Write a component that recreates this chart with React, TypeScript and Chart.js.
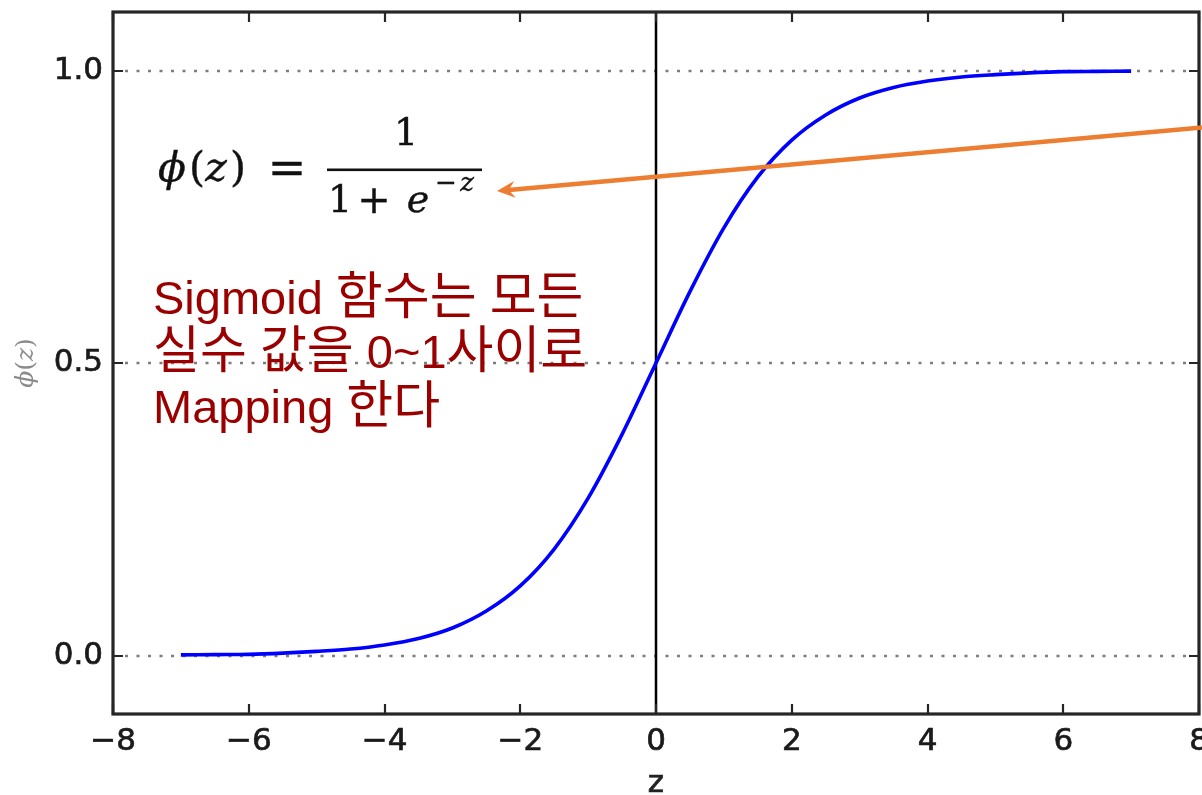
import React, { useEffect, useRef } from "react";
import { Chart, registerables } from "chart.js";

Chart.register(...registerables);

// Sampled points of the logistic curve phi(z)
const zValues = [
  -7, -6.5, -6, -5.5, -5, -4.5, -4, -3.5, -3, -2.5, -2, -1.5, -1, -0.5, 0,
  0.5, 1, 1.5, 2, 2.5, 3, 3.5, 4, 4.5, 5, 5.5, 6, 6.5, 7,
];
const phiValues = [
  0.001, 0.0015, 0.002, 0.004, 0.007, 0.011, 0.018, 0.029, 0.047, 0.076, 0.119,
  0.182, 0.269, 0.378, 0.5, 0.622, 0.731, 0.818, 0.881, 0.924, 0.953, 0.971,
  0.982, 0.989, 0.993, 0.996, 0.998, 0.9985, 0.999,
];

const xTickValues = [-8, -6, -4, -2, 0, 2, 4, 6, 8];
const yTickValues = [0, 0.5, 1.0];

const noteLines = ["Sigmoid 함수는 모든", "실수 값을 0~1사이로", "Mapping 한다"];

const TICK_FONT = "'DejaVu Sans', sans-serif";
const MATH_FONT = "'DejaVu Serif', serif";
const LATIN_NOTE_FONT = "47px 'Liberation Sans', sans-serif";
const HANGUL_NOTE_FONT = "51px 'Noto Sans CJK KR', sans-serif";

// draw a line of mixed Latin / Hangul text, each run in its own font
function drawMixed(ctx: CanvasRenderingContext2D, text: string, x: number, y: number) {
  const runs = text.match(/[\uAC00-\uD7A3]+|[^\uAC00-\uD7A3]+/g) || [];
  let cx = x;
  for (const run of runs) {
    ctx.font = /[\uAC00-\uD7A3]/.test(run) ? HANGUL_NOTE_FONT : LATIN_NOTE_FONT;
    ctx.fillText(run, cx, y);
    cx += ctx.measureText(run).width;
  }
}

const decorPlugin = {
  id: "decor",
  beforeDatasetsDraw(chart: any) {
    const { ctx, chartArea: a, scales } = chart;
    const xs = scales.x;
    const ys = scales.y;
    ctx.save();
    // dotted horizontal grid at each y tick
    ctx.strokeStyle = "#7d7d7d";
    ctx.lineWidth = 2.5;
    ctx.setLineDash([3, 8.5]);
    for (const v of yTickValues) {
      const py = Math.round(ys.getPixelForValue(v));
      ctx.beginPath();
      ctx.moveTo(a.left + 12, py);
      ctx.lineTo(a.right - 10, py);
      ctx.stroke();
    }
    ctx.setLineDash([]);
    // vertical reference line at z = 0
    const px0 = Math.round(xs.getPixelForValue(0));
    ctx.strokeStyle = "#000";
    ctx.lineWidth = 2.5;
    ctx.beginPath();
    ctx.moveTo(px0, a.top);
    ctx.lineTo(px0, a.bottom);
    ctx.stroke();
    ctx.restore();
  },
  afterDatasetsDraw(chart: any) {
    const { ctx, chartArea: a, scales } = chart;
    const xs = scales.x;
    const ys = scales.y;
    ctx.save();

    // frame
    ctx.strokeStyle = "#262626";
    ctx.lineWidth = 3.2;
    ctx.strokeRect(a.left, a.top, a.right - a.left, a.bottom - a.top);

    // inward tick marks on all four sides
    ctx.lineWidth = 2.2;
    const tl = 10;
    for (const v of xTickValues) {
      const px = Math.round(xs.getPixelForValue(v));
      ctx.beginPath();
      ctx.moveTo(px, a.bottom);
      ctx.lineTo(px, a.bottom - tl);
      ctx.moveTo(px, a.top);
      ctx.lineTo(px, a.top + tl);
      ctx.stroke();
    }
    for (const v of yTickValues) {
      const py = Math.round(ys.getPixelForValue(v));
      ctx.beginPath();
      ctx.moveTo(a.left, py);
      ctx.lineTo(a.left + tl, py);
      ctx.moveTo(a.right, py);
      ctx.lineTo(a.right - tl, py);
      ctx.stroke();
    }

    // axis titles
    ctx.fillStyle = "#222";
    ctx.strokeStyle = "#222";
    ctx.lineWidth = 0.7;
    ctx.font = `31px ${TICK_FONT}`;
    ctx.textAlign = "center";
    ctx.textBaseline = "alphabetic";
    const zx = xs.getPixelForValue(0);
    ctx.fillText("z", zx, a.bottom + 78);
    ctx.strokeText("z", zx, a.bottom + 78);

    ctx.save();
    ctx.translate(a.left - 87, ys.getPixelForValue(0.5));
    ctx.rotate(-Math.PI / 2);
    ctx.fillStyle = "#8a8a8a";
    ctx.textBaseline = "middle";
    const ySize = 25;
    const yParts: [string, boolean][] = [["ϕ", true], ["(", false], ["z", true], [")", false]];
    const widths = yParts.map(([s, it]) => {
      ctx.font = `${it ? "italic " : ""}${ySize}px ${MATH_FONT}`;
      return ctx.measureText(s).width;
    });
    let cx = -widths.reduce((p, w) => p + w, 0) / 2;
    ctx.textAlign = "left";
    yParts.forEach(([s, it], i) => {
      ctx.font = `${it ? "italic " : ""}${ySize}px ${MATH_FONT}`;
      ctx.fillText(s, cx, 0);
      cx += widths[i];
    });
    ctx.restore();

    // formula  phi(z) = 1 / (1 + e^-z)
    const L = a.left;
    const T = a.top;
    ctx.fillStyle = "#111";
    ctx.strokeStyle = "#111";
    ctx.lineWidth = 0.4;
    ctx.textAlign = "center";
    ctx.textBaseline = "alphabetic";
    const glyph = (s: string, cxp: number, by: number, size: number, italic: boolean) => {
      ctx.font = `${italic ? "italic " : ""}${size}px ${MATH_FONT}`;
      ctx.fillText(s, L + cxp, T + by);
      ctx.strokeText(s, L + cxp, T + by);
    };
    glyph("ϕ", 59, 169, 41, true);
    glyph("(", 84, 169, 41, false);
    glyph("z", 103, 169, 41, true);
    glyph(")", 125, 169, 41, false);
    glyph("=", 174, 171, 46, false);
    ctx.fillRect(L + 214, T + 156.5, 155, 2.6);
    glyph("1", 293, 133, 38, false);
    glyph("1", 227, 200, 38, false);
    glyph("+", 261, 201, 40, false);
    glyph("e", 305, 200, 38, true);
    glyph("−", 333, 179, 26, false);
    glyph("z", 354, 179, 26, true);

    // note text
    ctx.fillStyle = "#9a0000";
    ctx.textAlign = "left";
    const baselines = [302, 356, 411];
    noteLines.forEach((line, i) => drawMixed(ctx, line, L + 40, T + baselines[i]));

    // arrow pointing at the formula
    const sx = xs.getPixelForValue(8.044);
    const sy = ys.getPixelForValue(0.9027);
    const tx = xs.getPixelForValue(-2.343);
    const ty = ys.getPixelForValue(0.794);
    const ang = Math.atan2(ty - sy, tx - sx);
    const ux = Math.cos(ang);
    const uy = Math.sin(ang);
    const nx = -uy;
    const ny = ux;
    ctx.strokeStyle = "#ED7D31";
    ctx.fillStyle = "#ED7D31";
    ctx.lineWidth = 4.5;
    ctx.lineCap = "butt";
    ctx.beginPath();
    ctx.moveTo(sx, sy);
    ctx.lineTo(tx - ux * 12, ty - uy * 12);
    ctx.stroke();
    const hl = 18;
    const hw = 8.5;
    const notch = 12;
    ctx.beginPath();
    ctx.moveTo(tx, ty);
    ctx.lineTo(tx - ux * hl + nx * hw, ty - uy * hl + ny * hw);
    ctx.lineTo(tx - ux * notch, ty - uy * notch);
    ctx.lineTo(tx - ux * hl - nx * hw, ty - uy * hl - ny * hw);
    ctx.closePath();
    ctx.fill();

    ctx.restore();
  },
};

export default function App() {
  const canvasRef = useRef<HTMLCanvasElement | null>(null);

  useEffect(() => {
    const canvas = canvasRef.current;
    if (!canvas) return;
    const points = zValues.map((z, i) => ({ x: z, y: phiValues[i] }));
    const tickFont = { family: TICK_FONT, size: 31 };
    const chart = new Chart(canvas, {
      type: "line",
      data: {
        datasets: [
          {
            data: points,
            borderColor: "#0000ff",
            borderWidth: 3.6,
            pointRadius: 0,
            fill: false,
            cubicInterpolationMode: "monotone",
          },
        ],
      },
      options: {
        animation: false,
        responsive: false,
        devicePixelRatio: 1,
        layout: { padding: { top: 12, right: 3, left: 0, bottom: 0 } },
        plugins: {
          legend: { display: false },
          tooltip: { enabled: false },
        },
        scales: {
          x: {
            type: "linear",
            min: -8,
            max: 8,
            grid: { display: false },
            border: { display: false },
            afterBuildTicks: (scale: any) => {
              scale.ticks = xTickValues.map((v) => ({ value: v }));
            },
            afterFit: (scale: any) => {
              scale.height = 81;
              scale.paddingLeft = 0;
              scale.paddingRight = 0;
            },
            ticks: {
              padding: 1,
              color: "#1a1a1a",
              textStrokeColor: "#1a1a1a",
              textStrokeWidth: 0.7,
              font: tickFont,
              maxRotation: 0,
              autoSkip: false,
              callback: (v: any) => (v < 0 ? "\u2212" + Math.abs(v) : String(v)),
            },
          },
          y: {
            type: "linear",
            min: -0.1,
            max: 1.1,
            grid: { display: false },
            border: { display: false },
            afterBuildTicks: (scale: any) => {
              scale.ticks = yTickValues.map((v) => ({ value: v }));
            },
            afterFit: (scale: any) => {
              scale.width = 113;
              scale.paddingTop = 0;
              scale.paddingBottom = 0;
            },
            ticks: {
              padding: 2,
              color: "#1a1a1a",
              textStrokeColor: "#1a1a1a",
              textStrokeWidth: 0.7,
              font: tickFont,
              callback: (v: any) => Number(v).toFixed(1),
            },
          },
        },
      },
      plugins: [decorPlugin],
    });
    return () => chart.destroy();
  }, []);

  return (
    <div style={{ position: "absolute", left: 0, top: 0, width: 1202, height: 795, background: "#fff" }}>
      <canvas ref={canvasRef} width={1202} height={795} style={{ display: "block" }} />
    </div>
  );
}
